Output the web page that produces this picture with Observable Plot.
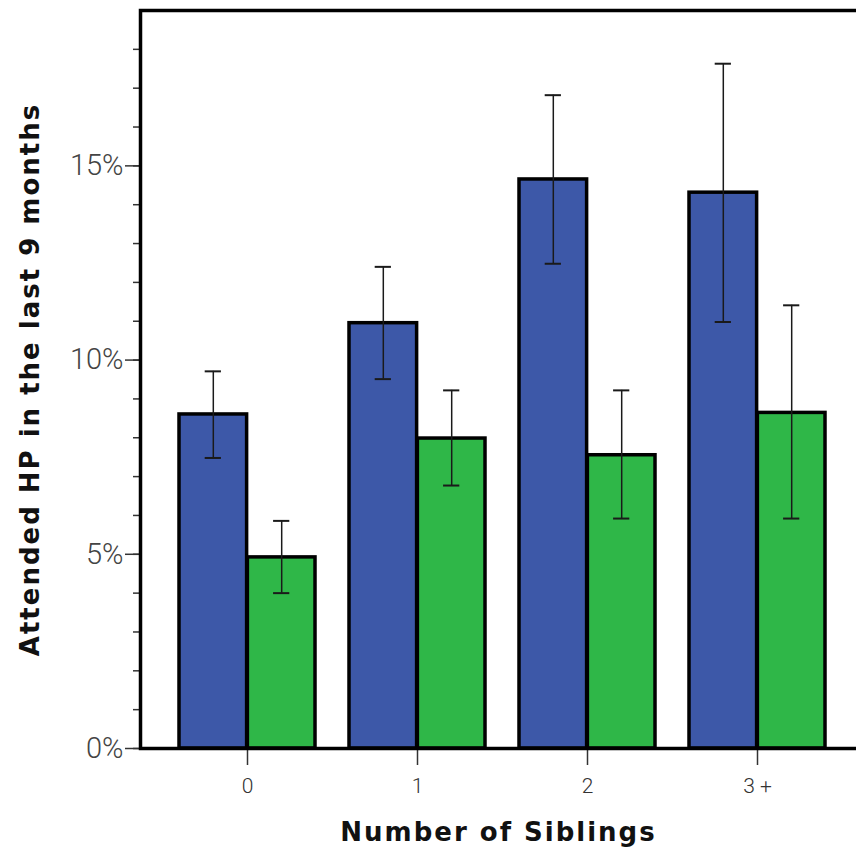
<!DOCTYPE html>
<html>
<head>
<meta charset="utf-8">
<script src="https://cdn.jsdelivr.net/npm/d3@7"></script>
<script src="https://cdn.jsdelivr.net/npm/@observablehq/plot@0.6"></script>
<style>
  html, body { margin: 0; padding: 0; overflow: hidden; background: #fff; }
  #chart svg { display: block; }
  g[aria-label="y-axis tick label"] text { font-weight: 300; }
  g[aria-label="x-axis tick label"] text { font-weight: 300; }
</style>
</head>
<body>
<div id="chart"></div>
<script>
// ---- data ----
const groups = ["0", "1", "2", "3 +"];
const seriesNames = ["blue", "green"];
const blueValues = [0.0860, 0.1095, 0.1465, 0.1431];
const blueLow    = [0.0748, 0.0951, 0.1248, 0.1098];
const blueHigh   = [0.0971, 0.1240, 0.1682, 0.1763];
const greenValues = [0.0492, 0.0798, 0.0755, 0.0864];
const greenLow    = [0.0400, 0.0677, 0.0592, 0.0592];
const greenHigh   = [0.0586, 0.0922, 0.0922, 0.1141];
const yMajorTicks = [0, 0.05, 0.10, 0.15];
const yMinorTicks = d3.range(0, 19).map(i => i / 100);
const xTitle = "Number of Siblings";
const yTitle = "Attended HP in the last 9 months";

// ---- layout ----
const W = 856, H = 860;
const mL = 140, mR = 0, mT = 10, mB = 112;
const padInner = 0.2, padOuter = 0.194, align = 0.553;
const bw = d3.scaleBand().domain(groups).range([mL, W - mR])
  .paddingInner(padInner).paddingOuter(padOuter).align(align).bandwidth();
const half = bw / 2, capHalf = 8.5;

const blue = groups.map((g, i) => ({group: g, value: blueValues[i], lo: blueLow[i], hi: blueHigh[i]}));
const green = groups.map((g, i) => ({group: g, value: greenValues[i], lo: greenLow[i], hi: greenHigh[i]}));
const colors = {blue: "#3d58a8", green: "#2fb748"};

const tickFont = "Roboto, 'Liberation Sans', sans-serif";
const titleFont = "'DejaVu Sans', Verdana, sans-serif";

function errMarks(data, side) {
  const center = side < 0 ? bw / 4 : 3 * bw / 4;
  const capL = center - capHalf, capR = bw - center - capHalf;
  return [
    Plot.ruleX(data, {x: "group", y1: "lo", y2: "hi", dx: side * bw / 4, stroke: "#1a1a1a", strokeWidth: 1.5}),
    Plot.tickY(data, {x: "group", y: "hi", insetLeft: capL, insetRight: capR, stroke: "#1a1a1a", strokeWidth: 2}),
    Plot.tickY(data, {x: "group", y: "lo", insetLeft: capL, insetRight: capR, stroke: "#1a1a1a", strokeWidth: 2})
  ];
}

const chart = Plot.plot({
  width: W, height: H,
  marginLeft: mL, marginRight: mR, marginTop: mT, marginBottom: mB,
  style: {background: "#fff", color: "#000"},
  x: {type: "band", domain: groups, paddingInner: padInner, paddingOuter: padOuter, align: align, axis: null},
  y: {domain: [0, 0.19], axis: null},
  marks: [
    Plot.barY(blue, {x: "group", y: "value", fill: colors.blue, stroke: "#000", strokeWidth: 3.5, insetRight: half}),
    Plot.barY(green, {x: "group", y: "value", fill: colors.green, stroke: "#000", strokeWidth: 3.5, insetLeft: half}),
    ...errMarks(blue, -1),
    ...errMarks(green, 1),
    Plot.axisY({ticks: yMinorTicks, tickSize: 7, tickFormat: () => "", label: null, stroke: "#333", strokeWidth: 1.5}),
    Plot.axisY({ticks: yMajorTicks, tickSize: 15, tickPadding: 2, tickFormat: d3.format(".0%"), label: null,
      stroke: "#333", strokeWidth: 1.5, fontSize: 29, fontFamily: tickFont, fill: "#444"}),
    Plot.axisX({tickSize: 17, tickPadding: 13, label: null, stroke: "#333", strokeWidth: 1.5,
      fontSize: 21, fontFamily: tickFont, fill: "#333"}),
    Plot.frame({stroke: "#000", strokeWidth: 3.5, insetRight: -20}),
    Plot.text([yTitle], {frameAnchor: "left", textAnchor: "middle", dx: -110, rotate: -90, fontSize: 26, fontWeight: "bold",
      fontFamily: titleFont, fill: "#111"}),
    Plot.text([xTitle], {frameAnchor: "bottom", textAnchor: "middle", dy: 92, fontSize: 26, fontWeight: "bold",
      fontFamily: titleFont, fill: "#111"})
  ]
});
chart.querySelectorAll("text").forEach(t => {
  if (t.textContent === xTitle || t.textContent === yTitle) t.style.letterSpacing = "2px";
});
document.getElementById("chart").appendChild(chart);
</script>
</body>
</html>
